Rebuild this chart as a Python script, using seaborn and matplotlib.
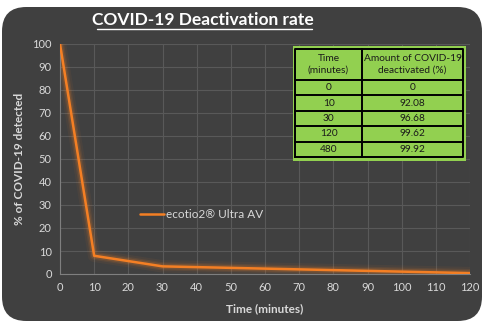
import matplotlib
matplotlib.use("Agg")
import matplotlib.pyplot as plt
from matplotlib.patches import FancyBboxPatch, Rectangle
import seaborn as sns
import pandas as pd
import numpy as np

# Measured deactivation of COVID-19 over time
time_min = [0, 10, 30, 120, 480]
deactivated_pct = [0, 92.08, 96.68, 99.62, 99.92]
time_labels = ["0", "10", "30", "120", "480"]
deactivated_labels = ["0", "92.08", "96.68", "99.62", "99.92"]
header_labels = ["Time\n(minutes)", "Amount of COVID-19\ndeactivated (%)"]
series_name = "ecotio2\u00ae Ultra AV"

detected_pct = [round(100 - v, 2) for v in deactivated_pct]
df = pd.DataFrame({"Time": time_min, "Detected": detected_pct, "Series": series_name})

sns.set_theme(style="dark")
plt.rcParams["font.family"] = ["Lato", "DejaVu Sans"]

BG = "#404040"
GRID = "#595959"
TXT = "#d9d9d9"
ORANGE = "#f47f24"
GREEN = "#92d050"

fig = plt.figure(figsize=(4.86, 3.28), dpi=100)
fig.patch.set_facecolor("white")

# rounded dark panel behind everything
W, H = 486, 328
panel = FancyBboxPatch((2 / W, 7 / H), 480 / W, 314 / H,
                       boxstyle="round,pad=0,rounding_size=0.05",
                       transform=fig.transFigure, facecolor=BG,
                       edgecolor="none", zorder=-1,
                       mutation_aspect=W / H)
fig.patches.append(panel)

ax = fig.add_axes([60 / W, 1 - 274 / H, 410 / W, 230 / H])
ax.set_facecolor(BG)

# soft glow under the line
for lw, a in [(9, 0.06), (6, 0.1), (4, 0.18)]:
    sns.lineplot(data=df, x="Time", y="Detected", ax=ax, color=ORANGE,
                 linewidth=lw, alpha=a, legend=False, zorder=2)
sns.lineplot(data=df, x="Time", y="Detected", hue="Series", ax=ax,
             palette=[ORANGE], linewidth=1.8, zorder=3)

ax.set_xlim(0, 120)
ax.set_ylim(0, 100)
ax.set_xticks(np.arange(0, 121, 10))
ax.set_yticks(np.arange(0, 101, 10))
ax.grid(True, color=GRID, linewidth=0.8)
ax.set_axisbelow(True)
for side in ["top", "right"]:
    ax.spines[side].set_visible(False)
for side in ["left", "bottom"]:
    ax.spines[side].set_color("#7f7f7f")
    ax.spines[side].set_linewidth(0.8)
ax.tick_params(colors=TXT, labelsize=8, length=0, pad=6)
for t in ax.get_xticklabels() + ax.get_yticklabels():
    t.set_color(TXT)
ax.set_xlabel("Time (minutes)", color=TXT, fontsize=8.5, fontweight="bold", labelpad=7)
ax.set_ylabel("% of COVID-19 detected", color=TXT, fontsize=8.5, fontweight="bold", labelpad=5)

leg = ax.legend(loc="center left", bbox_to_anchor=(0.17, 0.26), frameon=False,
                fontsize=8.5, handlelength=2.0, handletextpad=0.2)
for t in leg.get_texts():
    t.set_color(TXT)

fig.text(203 / W, 1 - 20 / H, "COVID-19 Deactivation rate", color="white",
         fontsize=12.5, fontweight="bold", ha="center", va="center")
fig.lines.append(plt.Line2D([97 / W, 312 / W], [1 - 29 / H, 1 - 29 / H],
                            transform=fig.transFigure, color="white", linewidth=1))

# data table in the upper right, laid out in pixel units
tax = fig.add_axes([293 / W, 1 - 161 / H, 173 / W, 115 / H], zorder=5)
tax.set_axis_off()
tax.set_xlim(0, 173)
tax.set_ylim(0, 115)
tax.add_patch(Rectangle((0, 0), 173, 115, facecolor=GREEN, edgecolor="none", zorder=0))
x0, x1, xm = 2, 170, 69
y_top, y_bot = 112, 4
y_head = y_top - 31
n = len(time_labels)
row = (y_head - y_bot) / n
lk = dict(color="black", linewidth=1.4, zorder=2, solid_capstyle="projecting")
tax.plot([x0, x1, x1, x0, x0], [y_bot, y_bot, y_top, y_top, y_bot], **lk)
tax.plot([xm, xm], [y_bot, y_top], **lk)
for i in range(n):
    yy = y_head - i * row
    tax.plot([x0, x1], [yy, yy], **lk)
tk = dict(ha="center", va="center", fontsize=7.3, color="#1a1a1a", zorder=3)
tax.text((x0 + xm) / 2, (y_top + y_head) / 2, header_labels[0], linespacing=1.35, **tk)
tax.text((xm + x1) / 2, (y_top + y_head) / 2, header_labels[1], linespacing=1.35, **tk)
for i, (t, d) in enumerate(zip(time_labels, deactivated_labels)):
    yc = y_head - (i + 0.5) * row
    tax.text((x0 + xm) / 2, yc, t, **tk)
    tax.text((xm + x1) / 2, yc, d, **tk)

fig.savefig("out.png", dpi=100, facecolor="white")
